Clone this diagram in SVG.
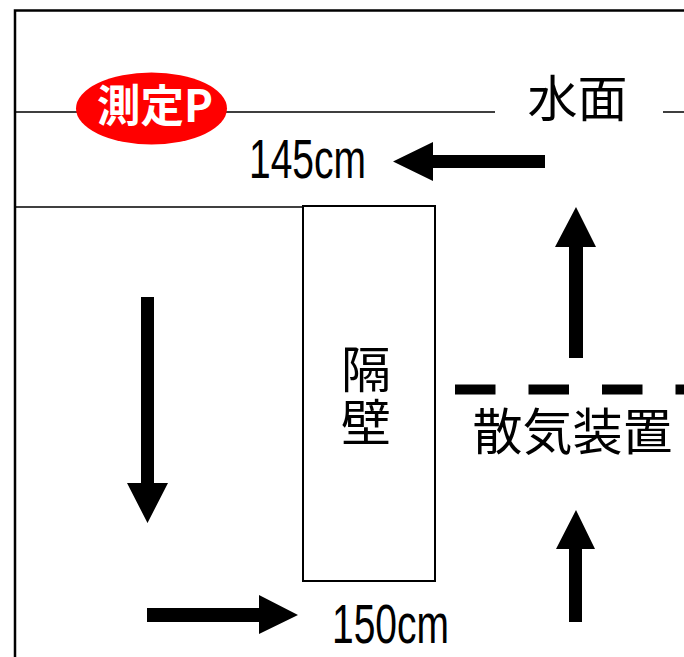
<svg xmlns="http://www.w3.org/2000/svg" width="684" height="657" viewBox="0 0 684 657">
<style>
.frame{fill:none;stroke:#000;stroke-width:2.5}
.thin{fill:none;stroke:#000;stroke-width:1.5}
.arrow{fill:#000;stroke:none}
.jp{font-family:"Noto Sans CJK JP","Noto Sans CJK SC",sans-serif;font-size:50px;fill:#000}
.num{font-family:"Liberation Sans","DejaVu Sans",sans-serif;font-size:56px;fill:#000}
</style>
<rect width="684" height="657" fill="#fff"/>
<g id="tank">
<path class="frame" d="M15,657 V10.5 H684"/>
<path class="thin" d="M15,112 H495 M663,112 H684"/>
<path class="thin" d="M15,207 H303"/>
</g>
<g id="water-surface">
<text class="jp" x="577.5" y="116.5" text-anchor="middle">水面</text>
</g>
<g id="measure-point">
<ellipse cx="151.5" cy="108.5" rx="75.5" ry="36" fill="#ff0000"/>
<text x="97" y="122" textLength="116" lengthAdjust="spacingAndGlyphs" font-family="'Noto Sans CJK JP','Noto Sans CJK SC',sans-serif" font-size="44" font-weight="bold" fill="#fff">測定P</text>
</g>
<g id="partition">
<rect x="303" y="206" width="132" height="375" fill="#fff" stroke="#000" stroke-width="2"/>
<text class="jp" x="366" y="397" text-anchor="middle" style="writing-mode:vertical-rl" letter-spacing="3">隔壁</text>
</g>
<g id="aerator">
<line x1="455" y1="389.5" x2="684" y2="389.5" stroke="#000" stroke-width="10" stroke-dasharray="40.5 33"/>
<text class="jp" x="572.5" y="449.5" text-anchor="middle">散気装置</text>
</g>
<g id="label-145">
<text class="num" x="249" y="178" textLength="117" lengthAdjust="spacingAndGlyphs">145cm</text>
</g>
<g id="label-150">
<text class="num" x="332" y="643" textLength="117" lengthAdjust="spacingAndGlyphs">150cm</text>
</g>
<g id="connectors">
<polygon class="arrow" points="545,155 433,155 433,142 393,161.5 433,181 433,168 545,168"/>
<polygon class="arrow" points="569,358 569,247 555,247 576,207 596,247 583,247 583,358"/>
<polygon class="arrow" points="141,297 154,297 154,483 168,483 147.5,523 127,483 141,483"/>
<polygon class="arrow" points="569,622 569,549 556,549 576,510 595,549 582,549 582,622"/>
<polygon class="arrow" points="147,608 259,608 259,595 298,615 259,634 259,622 147,622"/>
</g>
</svg>
